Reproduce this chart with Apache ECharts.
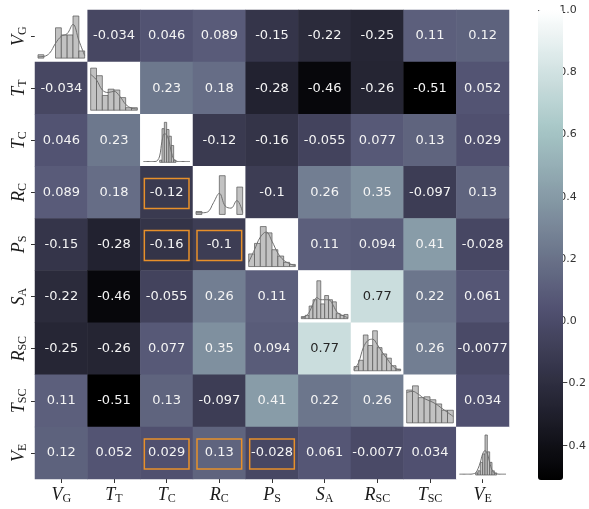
<!DOCTYPE html>
<html>
<head>
<meta charset="utf-8">
<script src="https://cdn.jsdelivr.net/npm/echarts@6/dist/echarts.min.js"></script>
<style>
  html, body { margin: 0; padding: 0; background: #ffffff; }
  #chart { width: 589px; height: 509px; }
</style>
</head>
<body>
<div id="chart"></div>
<script>
// Variables: base letter (italic) and subscript
const varBase = ['V', 'T', 'T', 'R', 'P', 'S', 'R', 'T', 'V'];
const varSub  = ['G', 'T', 'C', 'C', 'S', 'A', 'SC', 'SC', 'E'];

// Pearson correlation matrix (row-major, symmetric)
const rowVG  = [1, -0.034, 0.046, 0.089, -0.15, -0.22, -0.25, 0.11, 0.12];
const rowTT  = [-0.034, 1, 0.23, 0.18, -0.28, -0.46, -0.26, -0.51, 0.052];
const rowTC  = [0.046, 0.23, 1, -0.12, -0.16, -0.055, 0.077, 0.13, 0.029];
const rowRC  = [0.089, 0.18, -0.12, 1, -0.1, 0.26, 0.35, -0.097, 0.13];
const rowPS  = [-0.15, -0.28, -0.16, -0.1, 1, 0.11, 0.094, 0.41, -0.028];
const rowSA  = [-0.22, -0.46, -0.055, 0.26, 0.11, 1, 0.77, 0.22, 0.061];
const rowRSC = [-0.25, -0.26, 0.077, 0.35, 0.094, 0.77, 1, 0.26, -0.0077];
const rowTSC = [0.11, -0.51, 0.13, -0.097, 0.41, 0.22, 0.26, 1, 0.034];
const rowVE  = [0.12, 0.052, 0.029, 0.13, -0.028, 0.061, -0.0077, 0.034, 1];

// Highlighted cells: [column, row]
const highlighted = [[2, 3], [2, 4], [3, 4], [2, 8], [3, 8], [4, 8]];

// Colour scale limits and colourbar ticks
const vmin = -0.51, vmax = 1.0;
const cbTicks = [-0.4, -0.2, 0, 0.2, 0.4, 0.6, 0.8, 1.0];

// Diagonal distributions: relative bin heights and density curve (sampled at bin edges)
const histVG  = [0.08, 0, 0, 0.72, 0.55, 0.55, 1.0, 0.17];
const kdeVG   = [0.03, 0.04, 0.12, 0.35, 0.52, 0.58, 0.8, 0.42, 0.06];
const histTT  = [1.0, 0.82, 0.35, 0.5, 0.48, 0.3, 0.06, 0.06];
const kdeTT   = [0.85, 0.72, 0.48, 0.42, 0.45, 0.33, 0.14, 0.05, 0.03];
const histTC  = [0, 0, 0, 0, 0, 0, 0, 0.05, 0.8, 0.95, 0.78, 0.62, 0.4, 0.05, 0, 0, 0, 0, 0, 0];
const kdeTC   = [0.02, 0.02, 0.02, 0.02, 0.02, 0.02, 0.04, 0.15, 0.5, 0.68, 0.65, 0.5, 0.25, 0.08, 0.03, 0.02, 0.02, 0.02, 0.02, 0.02, 0.02];
const histRC  = [0.07, 0, 0, 0, 0.92, 0, 0, 0.65];
const kdeRC   = [0.04, 0.04, 0.06, 0.28, 0.5, 0.2, 0.15, 0.33, 0.05];
const histPS  = [0.3, 0.55, 0.95, 0.8, 0.4, 0.25, 0.1, 0.05];
const kdePS   = [0.1, 0.4, 0.7, 0.82, 0.6, 0.32, 0.15, 0.07, 0.02];
const histSA  = [0.05, 0.08, 0.3, 0.45, 0.9, 0.35, 0.55, 0.45, 0.4, 0.12, 0.08, 0.1];
const kdeSA   = [0.02, 0.05, 0.15, 0.35, 0.5, 0.45, 0.45, 0.45, 0.35, 0.18, 0.1, 0.06, 0.02];
const histRSC = [0.1, 0.25, 0.85, 0.6, 0.95, 0.55, 0.4, 0.3, 0.12, 0.04];
const kdeRSC  = [0.02, 0.2, 0.55, 0.72, 0.75, 0.62, 0.45, 0.3, 0.15, 0.05, 0.02];
const histTSC = [0.78, 0.88, 0.6, 0.62, 0.55, 0.45, 0.3, 0.3];
const kdeTSC  = [0.72, 0.75, 0.68, 0.58, 0.52, 0.45, 0.35, 0.25, 0.15];
const histVE  = [0, 0, 0, 0, 0, 0, 0, 0.05, 0.1, 0.3, 0.5, 0.95, 0.55, 0.3, 0.1, 0.05, 0, 0, 0, 0];
const kdeVE   = [0.02, 0.02, 0.02, 0.02, 0.02, 0.02, 0.03, 0.05, 0.15, 0.3, 0.5, 0.58, 0.5, 0.3, 0.12, 0.05, 0.03, 0.02, 0.02, 0.02, 0.02];

const corr = [rowVG, rowTT, rowTC, rowRC, rowPS, rowSA, rowRSC, rowTSC, rowVE];
const hists = [histVG, histTT, histTC, histRC, histPS, histSA, histRSC, histTSC, histVE];
const kdes  = [kdeVG, kdeTT, kdeTC, kdeRC, kdePS, kdeSA, kdeRSC, kdeTSC, kdeVE];

// matplotlib "bone" colormap segments
function boneColor(t) {
  const seg = pts => {
    for (let i = 1; i < pts.length; i++) {
      if (t <= pts[i][0]) {
        const [x0, y0] = pts[i - 1], [x1, y1] = pts[i];
        return y0 + (y1 - y0) * (t - x0) / (x1 - x0);
      }
    }
    return pts[pts.length - 1][1];
  };
  const r = seg([[0, 0], [0.746032, 0.652778], [1, 1]]);
  const g = seg([[0, 0], [0.365079, 0.319444], [0.746032, 0.777778], [1, 1]]);
  const b = seg([[0, 0], [0.365079, 0.444444], [1, 1]]);
  return 'rgb(' + [r, g, b].map(v => Math.round(v * 255)).join(',') + ')';
}
const boneStops = [];
for (let i = 0; i <= 64; i++) boneStops.push(boneColor(i / 64));

function luminance(v) {
  const t = (v - vmin) / (vmax - vmin);
  const m = boneColor(Math.min(1, Math.max(0, t))).match(/\d+/g).map(Number);
  const lin = c => { c /= 255; return c <= 0.03928 ? c / 12.92 : Math.pow((c + 0.055) / 1.055, 2.4); };
  return 0.2126 * lin(m[0]) + 0.7152 * lin(m[1]) + 0.0722 * lin(m[2]);
}
function fmt2g(v) { return String(Number(v.toPrecision(2))); }

const n = varBase.length;
const labelNames = varBase.map((b, i) => '{b|' + b + '}{s|' + varSub[i] + '}');

const heatData = [];
for (let r = 0; r < n; r++) {
  for (let c = 0; c < n; c++) {
    const v = corr[r][c];
    heatData.push({
      value: [c, r, v],
      label: { color: luminance(v) > 0.408 ? '#262626' : '#f4f4f4' }
    });
  }
}

// Layout of the matrix
const G = { left: 35, top: 10, width: 474, height: 469 };
const cellW = G.width / n, cellH = G.height / n;

const richLabel = {
  b: { fontFamily: 'Liberation Serif', fontStyle: 'italic', fontSize: 18, color: '#1a1a1a', lineHeight: 20 },
  s: { fontFamily: 'Liberation Serif', fontSize: 12, color: '#1a1a1a', lineHeight: 20, verticalAlign: 'bottom', padding: [8, 0, 0, 0] }
};

const grids = [Object.assign({}, G)];
const xAxes = [{
  type: 'category', gridIndex: 0, data: labelNames,
  axisLine: { show: false },
  axisTick: { show: true, alignWithLabel: true, length: 4, lineStyle: { color: '#333' } },
  axisLabel: { margin: 6, rich: richLabel, interval: 0 },
  splitLine: { show: false }
}];
const yAxes = [{
  type: 'category', gridIndex: 0, data: labelNames, inverse: true,
  axisLine: { show: false },
  axisTick: { show: true, alignWithLabel: true, length: 4, lineStyle: { color: '#333' } },
  axisLabel: { margin: 6, rich: richLabel, rotate: 90, interval: 0 },
  splitLine: { show: false }
}];

const series = [{
  type: 'heatmap', xAxisIndex: 0, yAxisIndex: 0,
  data: heatData,
  label: {
    show: true, fontFamily: 'DejaVu Sans', fontSize: 13,
    formatter: p => p.value[0] === p.value[1] ? '' : fmt2g(p.value[2])
  },
  itemStyle: { borderWidth: 0 },
  emphasis: { disabled: true }
}, {
  type: 'custom', xAxisIndex: 0, yAxisIndex: 0,
  data: highlighted,
  renderItem: (params, api) => {
    const c = api.coord([api.value(0), api.value(1)]);
    const s = api.size([1, 1]);
    const w = s[0] - 8, h = 30;
    return {
      type: 'rect',
      shape: { x: c[0] - w / 2, y: c[1] - h / 2 + 1, width: w, height: h },
      style: { fill: 'none', stroke: '#e8902a', lineWidth: 1.5 }
    };
  },
  silent: true, z: 3
}];

// One small panel per diagonal cell holding the distribution
for (let i = 0; i < n; i++) {
  const gi = i + 1;
  grids.push({
    left: G.left + i * cellW + 3,
    top: G.top + i * cellH + 6,
    width: cellW - 6,
    height: cellH - 10
  });
  const nb = hists[i].length;
  xAxes.push({ type: 'value', gridIndex: gi, min: 0, max: nb, show: false });
  yAxes.push({ type: 'value', gridIndex: gi, min: 0, max: 1.0, show: false });
  const bins = [];
  hists[i].forEach((h, k) => { if (h > 0) bins.push([k, k + 1, h]); });
  series.push({
    type: 'custom', xAxisIndex: gi, yAxisIndex: gi, data: bins, silent: true, z: 4,
    renderItem: (params, api) => {
      const p0 = api.coord([api.value(0), api.value(2)]);
      const p1 = api.coord([api.value(1), 0]);
      return {
        type: 'rect',
        shape: { x: p0[0], y: p0[1], width: p1[0] - p0[0], height: p1[1] - p0[1] },
        style: { fill: '#c2c2c2', stroke: '#555555', lineWidth: 0.7 }
      };
    }
  });
  const kd = kdes[i];
  series.push({
    type: 'line', xAxisIndex: gi, yAxisIndex: gi, silent: true, z: 5,
    data: kd.map((y, k) => [k * nb / (kd.length - 1), y]),
    smooth: 0.4, symbol: 'none',
    lineStyle: { color: '#707070', width: 1 }
  });
}

// Colourbar axis
const cbIndex = grids.length;
grids.push({ left: 538, top: 10, width: 25, height: 470 });
xAxes.push({ type: 'value', gridIndex: cbIndex, show: false, min: 0, max: 1 });
yAxes.push({
  type: 'value', gridIndex: cbIndex, position: 'right', min: vmin, max: vmax,
  axisLine: { show: false },
  splitLine: { show: false },
  axisTick: { show: true, length: 4, customValues: cbTicks, lineStyle: { color: '#333' } },
  axisLabel: {
    show: true, customValues: cbTicks, margin: 6, fontFamily: 'DejaVu Sans', fontSize: 11, color: '#333',
    formatter: v => (v < 0 ? '\u2212' : '') + Math.abs(v).toFixed(1)
  }
});
series.push({ type: 'line', xAxisIndex: cbIndex, yAxisIndex: cbIndex, data: [], silent: true });

const chart = echarts.init(document.getElementById('chart'), null, { renderer: 'canvas' });
chart.setOption({
  animation: false,
  backgroundColor: '#ffffff',
  grid: grids,
  xAxis: xAxes,
  yAxis: yAxes,
  visualMap: {
    type: 'continuous', seriesIndex: 0, dimension: 2,
    min: vmin, max: vmax, calculable: false, realtime: false,
    left: 538, top: 10, itemWidth: 25, itemHeight: 470, padding: 0,
    text: null, showLabel: false, hoverLink: false,
    inRange: { color: boneStops },
    borderColor: '#cccccc', borderWidth: 0
  },
  series: series
});
</script>
</body>
</html>
